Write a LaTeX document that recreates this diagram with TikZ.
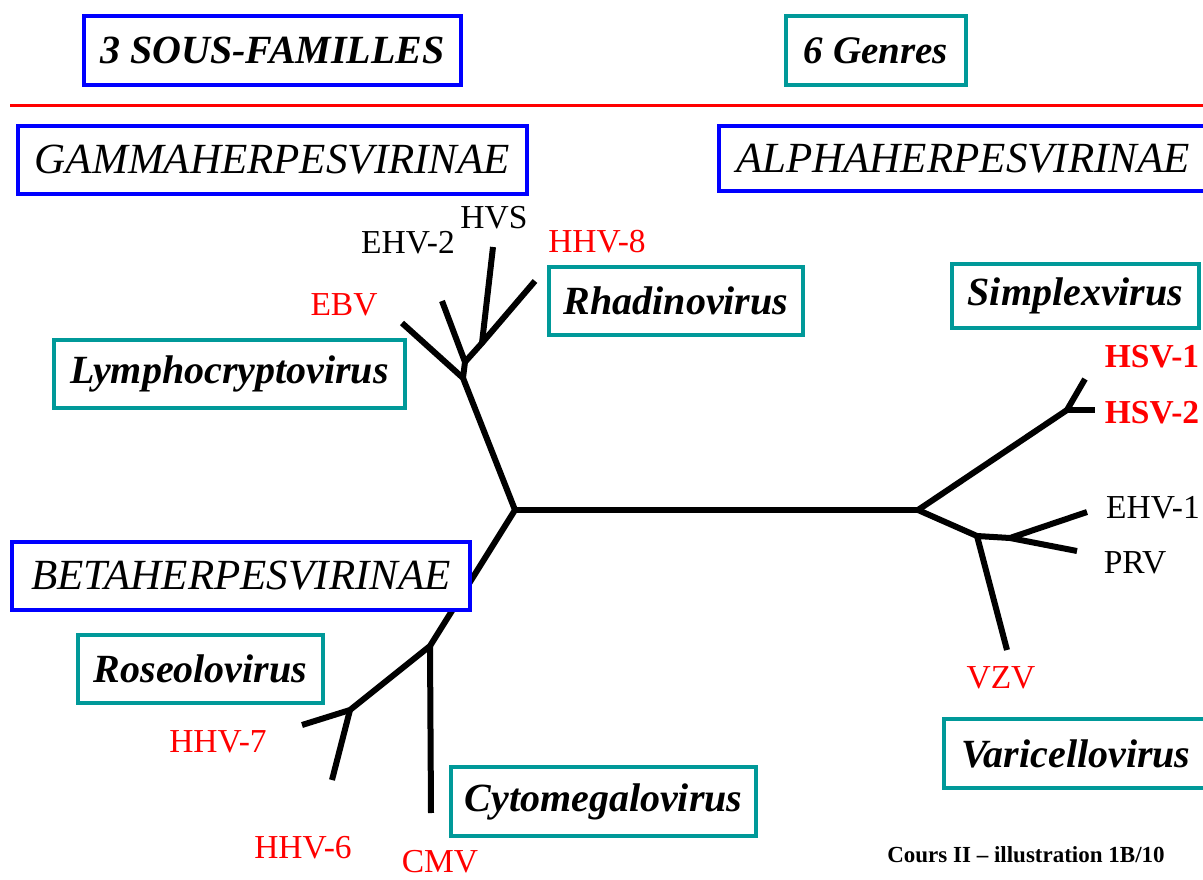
\documentclass[tikz,border=0pt]{standalone}
\usepackage{fontspec}
\setmainfont{Liberation Serif}
\definecolor{boxblue}{RGB}{0,0,255}
\definecolor{boxteal}{RGB}{0,153,153}
\definecolor{vred}{RGB}{255,0,0}
\begin{document}
\begin{tikzpicture}[x=1pt,y=-1pt,
  famille/.style={draw=boxblue,line width=4.5pt,fill=white,inner sep=0pt,
    font=\fontsize{43}{45}\selectfont\itshape},
  entete/.style={famille,font=\fontsize{40}{42}\selectfont\bfseries\itshape},
  genre/.style={draw=boxteal,line width=4.5pt,fill=white,inner sep=0pt,
    font=\fontsize{40}{42}\selectfont\bfseries\itshape},
  titre/.style={genre,font=\fontsize{39}{41}\selectfont\bfseries\itshape},
  leaf/.style={font=\fontsize{33.5}{35}\selectfont,inner sep=0pt},
  redleaf/.style={leaf,text=vred},
  boldleaf/.style={redleaf,font=\fontsize{33.5}{35}\selectfont\bfseries},
  branch/.style={line width=6pt,line join=round}]
\clip (0,0) rectangle (1203,880);
\fill[white] (0,0) rectangle (1203,880);

% tree coordinates
\coordinate (A) at (515,510);
\coordinate (B) at (918,510);
% gamma
\coordinate (g1) at (463,378);
\coordinate (g2) at (465,362);
\coordinate (g3) at (482,343);
\coordinate (tEBV) at (402,323);
\coordinate (tEHV2) at (442,301);
\coordinate (tHVS) at (493,247);
\coordinate (tHHV8) at (535,281);
% alpha
\coordinate (a1) at (1067,410);
\coordinate (tHSV1) at (1085,379);
\coordinate (tHSV2) at (1095,410);
\coordinate (v) at (977,536);
\coordinate (v2) at (1010,538);
\coordinate (tEHV1) at (1087,512);
\coordinate (tPRV) at (1077,551);
\coordinate (tVZV) at (1007,650);
% beta
\coordinate (b1) at (430,646);
\coordinate (r1) at (350,710);
\coordinate (tHHV7) at (302,725);
\coordinate (tHHV6) at (332,780);
\coordinate (tCMV) at (431,813);

% branches
\draw[branch] (A) -- (B);
\draw[branch] (A) -- (g1) -- (tEBV);
\draw[branch] (g1) -- (g2) -- (tEHV2);
\draw[branch] (g2) -- (g3) -- (tHVS);
\draw[branch] (g3) -- (tHHV8);
\draw[branch] (B) -- (a1) -- (tHSV1);
\draw[branch] (a1) -- (tHSV2);
\draw[branch] (B) -- (v) -- (v2) -- (tEHV1);
\draw[branch] (v2) -- (tPRV);
\draw[branch] (v) -- (tVZV);
\draw[branch] (A) -- (b1) -- (r1) -- (tHHV7);
\draw[branch] (r1) -- (tHHV6);
\draw[branch] (b1) -- (tCMV);

% red separator
\coordinate (sepL) at (10,106);
\coordinate (sepR) at (1203,106);
\draw[vred,line width=3pt] (sepL) -- (sepR);

% header boxes
\node[entete,minimum width=377pt,minimum height=69pt] (sf) at (272.5,50.5) {3 SOUS-FAMILLES};
\node[titre,minimum width=180pt,minimum height=69pt] (gen) at (876,50.5) {6 Genres};

% subfamily boxes
\node[famille,minimum width=509pt,minimum height=68pt] (gamma) at (272.5,160) {GAMMAHERPESVIRINAE};
\node[famille,minimum width=488pt,minimum height=65pt] (alpha) at (963,158.5) {ALPHAHERPESVIRINAE};
\node[famille,minimum width=458pt,minimum height=68pt] (beta) at (241,576) {BETAHERPESVIRINAE};

% genus boxes
\node[genre,minimum width=254pt,minimum height=68pt] (rhadino) at (676,301) {Rhadinovirus};
\node[genre,minimum width=351pt,minimum height=68pt] (lympho) at (229.5,374) {Lymphocryptovirus};
\node[genre,minimum width=247pt,minimum height=64pt] (simplex) at (1075.5,296) {Simplexvirus};
\node[genre,minimum width=245pt,minimum height=68pt] (roseolo) at (200.5,669) {Roseolovirus};
\node[genre,minimum width=305pt,minimum height=69pt] (cyto) at (603.5,801.5) {Cytomegalovirus};
\node[genre,minimum width=264pt,minimum height=69pt] (varicello) at (1076,753.5) {Varicellovirus};

% leaf labels
\node[leaf] (lHVS) at (494,218) {HVS};
\node[leaf] (lEHV2) at (408,243) {EHV-2};
\node[redleaf] (lHHV8) at (597,242) {HHV-8};
\node[redleaf] (lEBV) at (344,305) {EBV};
\node[boldleaf] (lHSV1) at (1152,357) {HSV-1};
\node[boldleaf] (lHSV2) at (1152,413) {HSV-2};
\node[leaf] (lEHV1) at (1153,508) {EHV-1};
\node[leaf] (lPRV) at (1135,563) {PRV};
\node[redleaf] (lVZV) at (1001,678) {VZV};
\node[redleaf] (lHHV7) at (218,742) {HHV-7};
\node[redleaf] (lHHV6) at (303,848) {HHV-6};
\node[redleaf] (lCMV) at (440,862) {CMV};

\node[inner sep=0pt,font=\fontsize{23}{25}\selectfont\bfseries] (cours) at (1026,855) {Cours II – illustration 1B/10};
\end{tikzpicture}
\end{document}
